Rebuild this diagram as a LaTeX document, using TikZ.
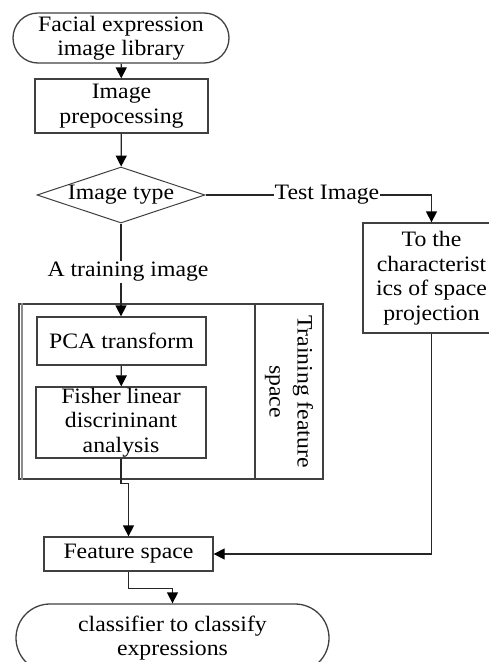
\documentclass[tikz,border=0pt]{standalone}
\usepackage{fontspec}
\setmainfont{Liberation Serif}[FakeStretch=1.08]
\usetikzlibrary{arrows.meta,shapes.geometric,shapes.misc}

\begin{document}
\begin{tikzpicture}[x=1pt,y=1pt]
\tikzset{
  flowbox/.style={rectangle,draw=black!75,line width=1.3pt,inner sep=1pt,align=center,font=\fontsize{22}{24.5}\selectfont},
  terminal/.style={flowbox,rounded rectangle},
  decision/.style={flowbox,diamond,aspect=3,inner sep=0pt,line width=1pt},
  flowlabel/.style={inner sep=1pt,font=\fontsize{22}{24.5}\selectfont},
  flow/.style={-{Triangle[length=11pt,width=11pt,fill=black,color=black]},line width=1.3pt,draw=black!85},
  plain/.style={line width=1.3pt,draw=black!85}
}
\useasboundingbox (0,0) rectangle (488,-662);
\node[terminal,minimum width=218,minimum height=50] (n_lib) at (121,-38) {Facial expression\\image library};
\node[flowbox,minimum width=173,minimum height=54] (n_pre) at (121.5,-106) {Image\\prepocessing};
\node[decision,minimum width=168,minimum height=56] (n_type) at (121,-195) {Image type};
\node[flowlabel,fill=white] (n_test) at (327,-195) {Test Image};
\node[flowbox,minimum width=137,minimum height=110] (n_proj) at (431.5,-278) {To the\\characterist\\ics of space\\projection};
\node[flowlabel] (n_train) at (128,-272) {A training image};
\node[flowbox,minimum width=304,minimum height=175] (n_outer) at (171,-391.5) {};
\node[flowbox,rotate=-90,minimum width=175,minimum height=68,font=\fontsize{22}{28}\selectfont] (n_space) at (289,-391.5) {Training feature\\space};
\node[flowbox,minimum width=169,minimum height=48] (n_pca) at (121.5,-341) {PCA transform};
\node[flowbox,minimum width=170,minimum height=71] (n_fisher) at (121,-422.5) {Fisher linear\\discrininant\\analysis};
\node[flowbox,minimum width=169,minimum height=34] (n_feat) at (128.5,-554) {Feature space};
\node[terminal,minimum width=315,minimum height=68] (n_cls) at (172.5,-638) {classifier to classify\\expressions};
% second edge on the left side of the training block
\draw[line width=1.3pt,draw=black!45] ([xshift=3.5]n_outer.north west) -- ([xshift=3.5]n_outer.south west);
\draw[flow] (n_lib) -- (n_pre);
\draw[flow] (n_pre) -- (n_type);
\draw[plain] (n_type.east) -- (n_test.west);
\draw[flow] (n_test.east) -| (n_proj.north);
\draw[plain] (n_type.south) -- (n_type.south |- n_train.north);
\draw[flow] (n_type.south |- n_train.south) -- (n_type.south |- n_pca.north);
\draw[flow] (n_pca) -- (n_fisher);
\draw[flow] (n_fisher.south) -- ++(0,-25) -| (n_feat.north);
\draw[flow] (n_proj.south) |- (n_feat.east);
\draw[flow] (n_feat.south) -- ++(0,-17) -| (n_cls.north);
\end{tikzpicture}
\end{document}
